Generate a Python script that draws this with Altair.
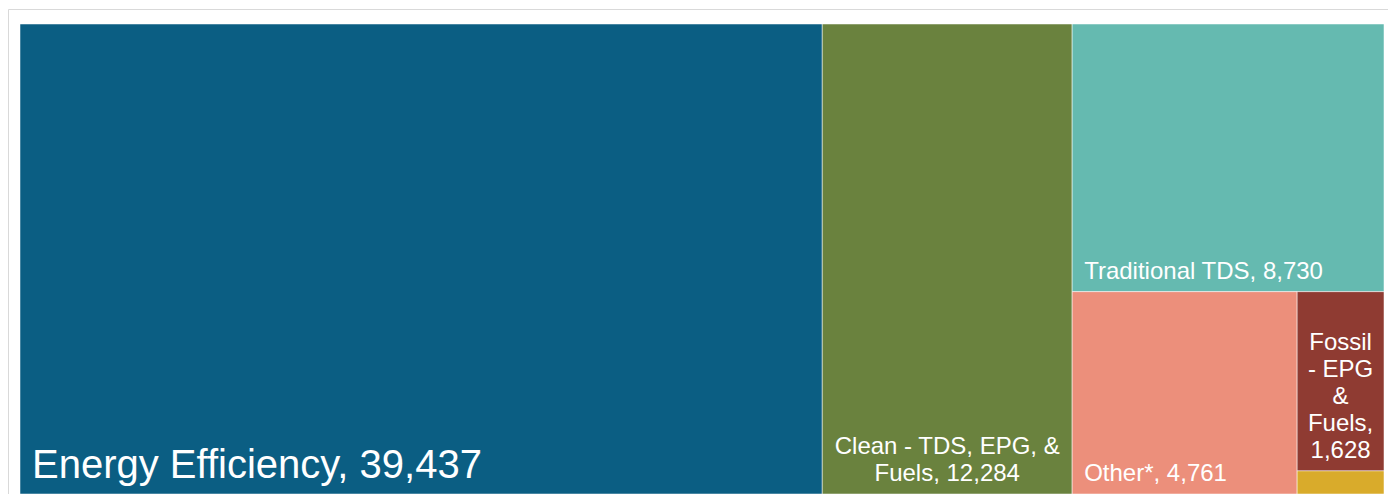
import altair as alt
import pandas as pd

# ---- data ----
categories = ["Energy Efficiency", "Clean - TDS, EPG, & Fuels", "Traditional TDS",
              "Other*", "Fossil - EPG & Fuels", "Nuclear"]
values = [39437, 12284, 8730, 4761, 1628, 210]
labels = ["Energy Efficiency, 39,437", "Clean - TDS, EPG, &\nFuels, 12,284",
          "Traditional TDS, 8,730", "Other*, 4,761",
          "Fossil\n- EPG\n&\nFuels,\n1,628", ""]
colors = ["#0b5e83", "#6a823e", "#65bab0", "#ec8f7b", "#8f3b32", "#d9ab2b"]

W, H = 1364, 470
LINE_H = 27


def worst(row, short):
    s = sum(a for _, a in row)
    return max(max(short * short * a / (s * s), s * s / (short * short * a)) for _, a in row)


def squarify(vals, x, y, w, h):
    total = sum(vals)
    items = sorted([(i, v / total * w * h) for i, v in enumerate(vals)], key=lambda t: -t[1])
    out = {}
    while items:
        short = min(w, h)
        row = [items[0]]
        k = 1
        while k < len(items) and worst(row + [items[k]], short) <= worst(row, short):
            row.append(items[k])
            k += 1
        s = sum(a for _, a in row)
        if w >= h:
            t = s / h
            yy = y
            for i, a in row:
                hh = a / t
                out[i] = (x, x + t, yy, yy + hh)
                yy += hh
            x += t
            w -= t
        else:
            t = s / w
            xx = x
            for i, a in row:
                ww = a / t
                out[i] = (xx, xx + ww, y, y + t)
                xx += ww
            y += t
            h -= t
        items = items[k:]
    return out


rects = squarify(values, 0, 0, W, H)
rows = []
for i, c in enumerate(categories):
    x0, x1, y0, y1 = rects[i]
    nlines = labels[i].count("\n") + 1
    rows.append(dict(cat=c, value=values[i], label=labels[i], x0=x0, x1=x1, y0=y0, y1=y1,
                     xc=(x0 + x1) / 2, yt=y1 - (nlines - 1) * LINE_H,
                     multi=(nlines > 1),
                     fs=40 if values[i] == max(values) else 24))
df = pd.DataFrame(rows)

xs = alt.Scale(domain=[0, W], nice=False, zero=False)
ys = alt.Scale(domain=[0, H], nice=False, zero=False, reverse=True)

base = alt.Chart(df)

frame = alt.Chart(pd.DataFrame({"a": [0]})).mark_rect(
    filled=False, stroke="#d9d9d9", strokeWidth=1
).encode(x=alt.value(-11.5), x2=alt.value(W + 30), y=alt.value(-14.5), y2=alt.value(H + 30))

rect = base.mark_rect(stroke="white", strokeWidth=1, strokeOpacity=0.5).encode(
    x=alt.X("x0:Q", scale=xs, axis=None),
    x2="x1:Q",
    y=alt.Y("y0:Q", scale=ys, axis=None),
    y2="y1:Q",
    color=alt.Color("cat:N", scale=alt.Scale(domain=categories, range=colors), legend=None),
    tooltip=["cat:N", "value:Q"],
)

font = "Liberation Sans"
left_text = base.transform_filter("!datum.multi && datum.label != ''").mark_text(
    align="left", baseline="bottom", dx=12, dy=-8, color="white", font=font, lineBreak="\n"
).encode(
    x=alt.X("x0:Q", scale=xs), y=alt.Y("yt:Q", scale=ys),
    text="label:N", size=alt.Size("fs:Q", scale=None),
)
center_text = base.transform_filter("datum.multi").mark_text(
    align="center", baseline="bottom", dy=-8, color="white", font=font, lineBreak="\n",
    lineHeight=LINE_H,
).encode(
    x=alt.X("xc:Q", scale=xs), y=alt.Y("yt:Q", scale=ys),
    text="label:N", size=alt.Size("fs:Q", scale=None),
)

chart = alt.layer(frame, rect, left_text, center_text).properties(
    width=W, height=H,
    autosize=alt.AutoSizeParams(type="none"),
    padding={"left": 12, "top": 16, "right": 4, "bottom": 0},
).configure_view(stroke=None)

chart.save("out.html", embed_options={"renderer": "svg", "actions": False})
